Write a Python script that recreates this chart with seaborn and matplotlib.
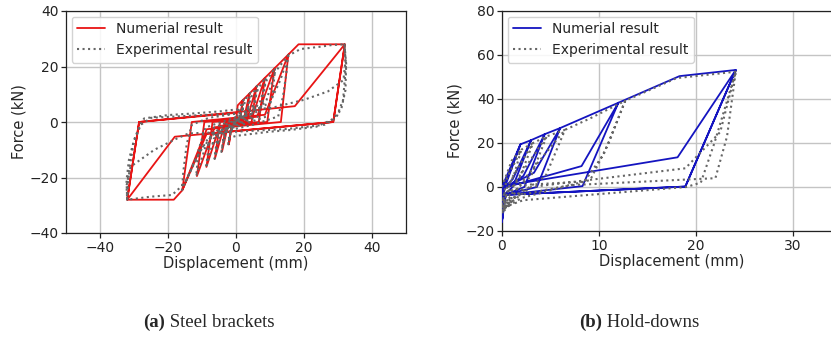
import matplotlib
matplotlib.use("Agg")
import matplotlib.pyplot as plt
import seaborn as sns
import pandas as pd

# Steel brackets: cyclic force-displacement paths (mm, kN)
bracket_num_disp = [0, 0.5, 2, 1.1, -1.15, -2.1, -1.2, 1.1, 2,
                    4, 2.85, -2.25, -4.1, -2.9, 2.2, 4,
                    6, 4.6, -3.4, -6.2, -4.7, 3.3, 6,
                    8.5, 6.7, -4.8, -8.7, -6.9, 4.7, 8.5,
                    11.3, 9.2, -6.3, -11.5, -9.3, 6.2, 11.3,
                    15.4, 13.2, -8.6, -15.8, -13.0, 8.5, 15.4,
                    18.4, 32, 28.6, -8.6, -15.8, -18.3, -32, -28.5, 17.3, 32,
                    28.6, -18, -32, -28.5, 0]
bracket_num_force = [0, 6, 7.9, 0, -0.3, -8.1, 0, 0.3, 7.9,
                     10.3, 0, -0.6, -10.6, 0, 0.6, 10.3,
                     12.8, 0, -1.0, -13.2, 0, 1.0, 12.8,
                     15.9, 0, -1.4, -16.2, 0, 1.4, 15.9,
                     19.3, 0, -1.9, -19.5, 0, 1.9, 19.3,
                     24.3, 0, -2.6, -24.6, 0, 2.6, 24.3,
                     28, 28, 0, -4.2, -24.6, -28, -28, 0, 5.7, 28,
                     0, -5.3, -28, 0, 3.3]

bracket_exp_disp = [0, 0.8, 1.8, 2.3, 1.6, 0.5, -0.8, -1.8, -2.3, -1.6, -0.5, 0.8, 2.3,
                    3, 4.2, 3.5, 2.5, 0, -2, -3.5, -4.3, -3.6, -2.5, 0, 2, 3.5, 4.5,
                    6.2, 5.5, 4.5, 0, -3, -5, -6.3, -5.6, -4.5, 0, 3, 5, 6.5,
                    8.7, 8, 6.5, 0, -4, -6.5, -8.8, -8, -6.5, 0, 4, 7, 9,
                    11.5, 10.8, 9, 0, -5.5, -8.5, -11.7, -11, -9, 0, 5.5, 9, 11.5,
                    15.3, 14.8, 13.8, 12.4, 5, -2, -8, -12, -15.9, -15.5, -14.5, -13, -8, 0,
                    6, 10, 13, 15.5, 19, 24.6, 28, 31.9, 32.4, 32.2, 30.9, 28, 23.6, 15.8,
                    9.9, 0, -10, -15, -18.8, -25, -32, -32.2, -31.5, -30, -28.1, -27,
                    -20, -13.5, -5, 0, 5, 9.9, 20, 27, 31.6, 32.2, 31.9, 32.3, 31.5,
                    29.5, 26, 15, 0, -13.9, -17.3, -24, -31, -32.2, -32, -31.5, -30,
                    -28, -25, -10, 0]
bracket_exp_force = [0, 4, 7, 8, 3, 0.5, -1, -5, -8, -3, -0.5, 1, 6,
                     8.5, 10.5, 5, 1.5, -0.5, -1.8, -6, -10.8, -5, -1.5, 0.5, 1.8, 5, 9,
                     13, 6, 1.8, -0.8, -2.2, -6, -13.3, -6, -1.8, 0.8, 2.2, 6, 12,
                     16, 8, 2, -1.2, -2.6, -6, -16.5, -8, -2, 1.2, 2.6, 7, 15,
                     19.5, 10, 2, -1.8, -3, -7, -19.5, -10, -2, 1.8, 3, 8, 18,
                     24, 17.5, 9, 2, -1, -3, -5.5, -13.7, -24.5, -18, -8, -1, 1.5, 3,
                     4.5, 7, 15, 24, 26.3, 27.1, 27.7, 28, 21, 11.5, 4.3, 0.7, -1.7, -2.9,
                     -3.5, -5, -9, -22, -26.3, -26.9, -28, -21, -13.7, -6.5, -0.7, 1.3,
                     2.5, 3, 3.8, 4.5, 4.9, 4.9, 8, 11, 15.1, 22, 28, 20, 8,
                     1.5, -1, -2.5, -3.5, -4.1, -5.9, -10, -16.1, -23, -28, -18, -7,
                     -1, 1.5, 2.5, 3]

# Hold-downs: cyclic force-displacement paths (mm, kN)
holddown_num_disp = [0, 1.9, 0.3, 0.1, 0, 0.05, 0.4, 1.9,
                     3.0, 1.1, 0.3, 0, 0.05, 1.1, 3.0,
                     4.4, 2.3, 0.4, 0, 0.05, 2.2, 4.4,
                     6.0, 3.6, 0.3, 0, 0.05, 3.3, 6.0,
                     12.0, 8.3, 0.2, 0, 0.1, 8.2, 12.0,
                     18.3, 24.1, 18.9, 0.1, 0, 0.2, 18.1, 24.1, 18.9, 0.1, 0]
holddown_num_force = [0, 19.4, 0, -3, -15, -1, 2.5, 19.4,
                      21.3, 0, -3.2, -15.2, -1, 3.5, 21.3,
                      24.0, 0, -3.4, -15.4, -1, 5, 24.0,
                      26.8, 0, -3.5, -15.5, -1, 6.5, 26.8,
                      38.3, 0.4, -3.6, -15.6, -0.5, 9.5, 38.3,
                      50.4, 53.2, 0.2, -3.6, -15.8, 0.5, 13.5, 53.2, 0.2, -3.6, -15.8]

holddown_exp_disp = [0, 1, 2, 1.2, 0.3, 0, 0.5, 2,
                     3.2, 1.8, 0.5, 0, 1, 3.2,
                     4.6, 3, 1, 0, 1.5, 4.6,
                     6.5, 4.5, 1.5, 0, 2, 6.5,
                     9, 12.7, 11, 9.1, 2, 0.2, 2.5, 8.5, 10.5, 12.7,
                     18, 24.1, 21.9, 20.5, 19, 2.2, 0.3, 3, 18.9, 22.5, 24.1,
                     23.2, 22, 19.5, 6.9, 1.5, 0]
holddown_exp_force = [0, 12, 17, 5, -2, -8, 4, 17,
                      20, 4, -3, -10, 4, 20,
                      23, 5, -3, -11, 3, 23,
                      26, 5, -4, -12, 2, 26,
                      31, 39.2, 20, 3.2, -5, -10, 1, 2.5, 15, 39.2,
                      49.5, 52.4, 20, 2, 0, -6, -9, 0, 8.5, 25, 52.4,
                      23, 4, 3.5, 0.8, -4, -8]

NUM_LABEL = "Numerial result"
EXP_LABEL = "Experimental result"
CAPTIONS = [("(a)", " Steel brackets"), ("(b)", " Hold-downs")]

sns.set_theme(style="ticks", rc={
    "axes.grid": True,
    "grid.color": "#c4c4c4",
    "grid.linewidth": 1.0,
    "axes.edgecolor": "#222222",
    "axes.linewidth": 0.9,
    "xtick.color": "#222222",
    "ytick.color": "#222222",
})
plt.rcParams["font.family"] = ["DejaVu Sans"]

fig = plt.figure(figsize=(8.31, 3.48), dpi=100)
ax1 = fig.add_axes([66 / 831, 115 / 348, 340 / 831, 222 / 348])
ax2 = fig.add_axes([502 / 831, 117 / 348, 339.5 / 831, 220 / 348])


def draw_panel(ax, nd, nf, ed, ef, color):
    num = pd.DataFrame({"d": nd, "f": nf})
    exp = pd.DataFrame({"d": ed, "f": ef})
    sns.lineplot(data=num, x="d", y="f", sort=False, estimator=None,
                 color=color, lw=1.3, ax=ax, label=NUM_LABEL, zorder=3)
    sns.lineplot(data=exp, x="d", y="f", sort=False, estimator=None,
                 color="#666666", lw=1.5, ls=":", ax=ax, label=EXP_LABEL, zorder=4)
    ax.set_xlabel("Displacement (mm)", fontsize=10.5, labelpad=1)
    ax.set_ylabel("Force (kN)", fontsize=10.5, labelpad=2)
    ax.tick_params(labelsize=10, length=3.5, width=0.9, pad=2)
    ax.grid(True, zorder=0)
    ax.set_axisbelow(True)
    ax.legend(loc="upper left", fontsize=10, frameon=True, framealpha=0.85,
              edgecolor="#cccccc", fancybox=True, borderaxespad=0.4,
              handlelength=2.0)


draw_panel(ax1, bracket_num_disp, bracket_num_force,
           bracket_exp_disp, bracket_exp_force, "#e81414")
ax1.set_xlim(-50, 50)
ax1.set_ylim(-40, 40)
ax1.set_xticks([-40, -20, 0, 20, 40])
ax1.set_yticks([-40, -20, 0, 20, 40])

draw_panel(ax2, holddown_num_disp, holddown_num_force,
           holddown_exp_disp, holddown_exp_force, "#1414c0")
ax2.set_xlim(0, 35)
ax2.set_ylim(-20, 80)
ax2.set_xticks([0, 10, 20, 30])
ax2.set_yticks([-20, 0, 20, 40, 60, 80])

# Sub-figure captions with bold labels
for xc, (tag, title) in zip([143 / 831, 579 / 831], CAPTIONS):
    t = fig.text(xc, 26 / 348, tag, fontsize=13.5, fontweight="bold",
                 family="Liberation Serif", va="center", ha="left")
    ax1.annotate(title, xy=(1, 0), xycoords=t, va="bottom", ha="left",
                 fontsize=13.5, family="Liberation Serif", annotation_clip=False)

fig.savefig("out.png", dpi=100)
